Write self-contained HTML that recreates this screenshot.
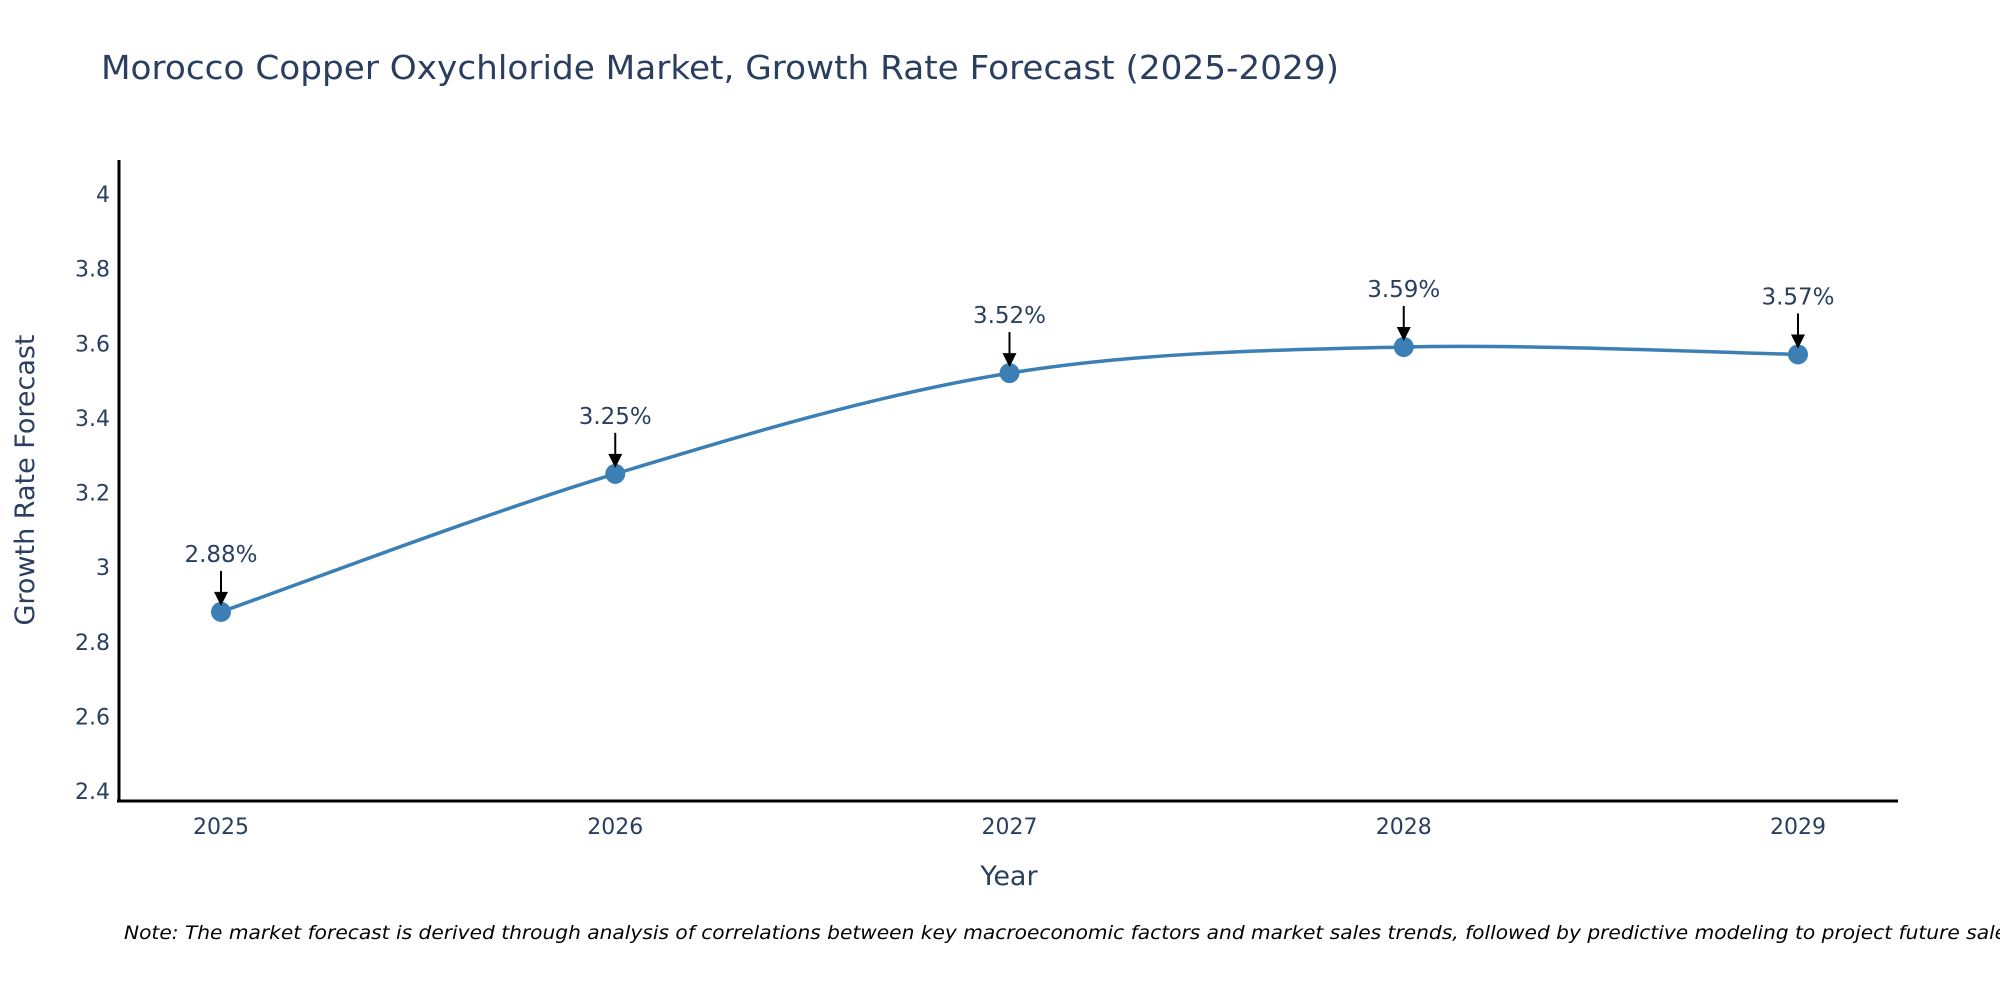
<!DOCTYPE html>
<html><head><meta charset="utf-8"><style>
body{margin:0;background:#fff}
svg text{font-family:"DejaVu Sans","Liberation Sans",sans-serif;fill:#2a3f5f}
</style></head><body>
<svg id="chart" width="2000" height="1000" viewBox="0 0 2000 1000" xmlns="http://www.w3.org/2000/svg">
<rect width="2000" height="1000" fill="#fff"/>
<text x="101" y="79" font-size="33" textLength="1238" lengthAdjust="spacingAndGlyphs">Morocco Copper Oxychloride Market, Growth Rate Forecast (2025-2029)</text>
<g id="yticks"></g><g id="xticks"></g>
<line x1="119" y1="160" x2="119" y2="801" stroke="#000" stroke-width="3"/>
<line x1="117" y1="801" x2="1898" y2="801" stroke="#000" stroke-width="3"/>
<text transform="translate(34,480) rotate(-90)" text-anchor="middle" font-size="27">Growth Rate Forecast</text>
<text x="1009" y="885" text-anchor="middle" font-size="27">Year</text>
<g id="series"></g>
<text x="124" y="939" font-size="19" font-style="italic" fill="#000" style="fill:#000" textLength="1900" lengthAdjust="spacingAndGlyphs">Note: The market forecast is derived through analysis of correlations between key macroeconomic factors and market sales trends, followed by predictive modeling to project future sales.</text>
</svg>
<script>
const years=[2025,2026,2027,2028,2029];
const values=[2.88,3.25,3.52,3.59,3.57];
const labels=["2.88%","3.25%","3.52%","3.59%","3.57%"];
const yTicks=[2.4,2.6,2.8,3,3.2,3.4,3.6,3.8,4];
const NS="http://www.w3.org/2000/svg";
const X=v=>221+(v-2025)*394.25;
const Y=v=>791-(v-2.4)*(597/1.6);
function mk(t,a,p){const e=document.createElementNS(NS,t);for(const k in a)e.setAttribute(k,a[k]);p.appendChild(e);return e;}
const yt=document.getElementById('yticks');
yTicks.forEach(v=>{const t=mk('text',{x:110,y:Y(v)+8,'text-anchor':'end','font-size':22},yt);


t.textContent=String(v);});
const xt=document.getElementById('xticks');
years.forEach(v=>{const t=mk('text',{x:X(v),y:834,'text-anchor':'middle','font-size':22},xt);


t.textContent=String(v);});
const s=document.getElementById('series');
const pts=years.map((y,i)=>[X(y),Y(values[i])]);
let d=`M${pts[0][0]},${pts[0][1]}`;
for(let i=0;i<pts.length-1;i++){const p0=pts[Math.max(0,i-1)],p1=pts[i],p2=pts[i+1],p3=pts[Math.min(pts.length-1,i+2)];const k=6;
d+=` C${p1[0]+(p2[0]-p0[0])/k},${p1[1]+(p2[1]-p0[1])/k} ${p2[0]-(p3[0]-p1[0])/k},${p2[1]-(p3[1]-p1[1])/k} ${p2[0]},${p2[1]}`;}
const line=mk('path',{d:d,fill:'none',stroke:'#3b7fb5','stroke-width':3.5},s);


pts.forEach((p,i)=>{
const c=mk('circle',{cx:p[0],cy:p[1],r:10,fill:'#3b7fb5'},s);


const a=mk('line',{x1:p[0],y1:p[1]-41,x2:p[0],y2:p[1]-18,stroke:'#000','stroke-width':2},s);


const h=mk('polygon',{points:`${p[0]-7},${p[1]-20} ${p[0]+7},${p[1]-20} ${p[0]},${p[1]-6}`,fill:'#000'},s);


const t=mk('text',{x:p[0],y:p[1]-50,'text-anchor':'middle','font-size':23},s);


t.textContent=labels[i];});
</script>
</body></html>
